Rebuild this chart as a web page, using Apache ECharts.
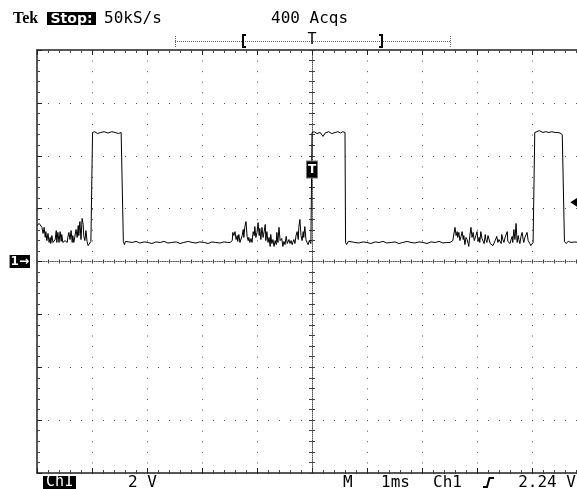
<!DOCTYPE html>
<html>
<head>
<meta charset="utf-8">
<script src="https://cdn.jsdelivr.net/npm/echarts@6/dist/echarts.min.js"></script>
<style>
  html, body { margin: 0; padding: 0; background: #fff; }
  #scope { width: 577px; height: 489px; }
</style>
</head>
<body>
<div id="scope"></div>
<script>
// Channel 1 capture: time in ms relative to the trigger, level in volts.
const timeMs = [
  // noisy idle before the first pulse
  -5.00, -4.96, -4.93, -4.91, -4.89, -4.87, -4.85, -4.84, -4.82, -4.80,
  -4.78, -4.76, -4.75, -4.73, -4.71, -4.67, -4.65, -4.64, -4.62, -4.60,
  -4.58, -4.56, -4.55, -4.53, -4.49, -4.45, -4.44, -4.42, -4.40, -4.38,
  -4.36, -4.35, -4.33, -4.29, -4.27, -4.25, -4.24, -4.22, -4.20, -4.18,
  -4.16, -4.15, -4.13, -4.11, -4.09, -4.07, -4.05, -4.04, -4.02, -4.00,
  // pulse 1
  -3.99, -3.95, -3.90, -3.84, -3.78, -3.71, -3.64, -3.58, -3.52, -3.47, -3.44,
  -3.43, -3.41, -3.39, -3.36, -3.33,
  // quiet low
  -3.27, -3.20, -3.13, -3.05, -2.98, -2.91, -2.84, -2.76, -2.69, -2.62,
  -2.55, -2.47, -2.40, -2.33, -2.25, -2.18, -2.11, -2.04, -1.96, -1.89,
  -1.82, -1.75, -1.67, -1.60, -1.53,
  // noisy stretch before the trigger
  -1.49, -1.45, -1.44, -1.42, -1.40, -1.38, -1.36, -1.35, -1.33, -1.31,
  -1.27, -1.25, -1.24, -1.22, -1.20, -1.18, -1.16, -1.15, -1.13, -1.11,
  -1.09, -1.07, -1.05, -1.04, -1.02, -1.00, -0.98, -0.96, -0.95, -0.93,
  -0.91, -0.89, -0.87, -0.85, -0.84, -0.82, -0.80, -0.78, -0.76, -0.75,
  -0.73, -0.71, -0.69, -0.67, -0.65, -0.64, -0.62, -0.60, -0.58, -0.56,
  -0.55, -0.53, -0.51, -0.49, -0.47, -0.45, -0.44, -0.42, -0.40, -0.38,
  -0.36, -0.35, -0.33, -0.31, -0.29, -0.27, -0.25, -0.24, -0.22, -0.20,
  -0.18, -0.16, -0.15, -0.13, -0.11, -0.09, -0.07, -0.05, -0.04, -0.02,
  // pulse 2 (trigger)
  0.00, 0.04, 0.09, 0.15, 0.20, 0.24, 0.30, 0.36, 0.42, 0.47, 0.52, 0.56, 0.60,
  0.61, 0.63, 0.66, 0.69, 0.73,
  // quiet low
  0.78, 0.85, 0.93, 1.00, 1.07, 1.15, 1.22, 1.29, 1.36, 1.44,
  1.51, 1.58, 1.65, 1.73, 1.80, 1.87, 1.95, 2.02, 2.09, 2.16,
  2.24, 2.31, 2.38, 2.45,
  // noisy stretch before pulse 3
  2.51, 2.56, 2.60, 2.62, 2.64, 2.65, 2.67, 2.69, 2.71, 2.73,
  2.75, 2.76, 2.78, 2.80, 2.82, 2.84, 2.85, 2.87, 2.89, 2.91,
  2.93, 2.95, 2.96, 2.98, 3.00, 3.02, 3.04, 3.05, 3.07, 3.09,
  3.11, 3.13, 3.15, 3.16, 3.18, 3.20, 3.22, 3.24, 3.27, 3.29,
  3.31, 3.33, 3.36, 3.38, 3.40, 3.44, 3.45, 3.47, 3.49, 3.51,
  3.55, 3.56, 3.58, 3.60, 3.62, 3.64, 3.65, 3.67, 3.69, 3.71,
  3.73, 3.75, 3.76, 3.78, 3.80, 3.82, 3.84, 3.85, 3.87, 3.91,
  3.93, 3.95, 3.96, 3.98, 4.00, 4.02, 4.04,
  // pulse 3
  4.05, 4.09, 4.13, 4.16, 4.20, 4.25, 4.31, 4.36, 4.42, 4.47, 4.51, 4.55, 4.58,
  4.59, 4.62, 4.66, 4.71, 4.78, 4.85, 4.92, 5.00
];
const volts = [
  1.36, 1.44, 1.47, 1.29, 1.06, 1.29, 0.91, 1.13, 0.79, 1.06,
  0.72, 0.91, 0.68, 0.98, 0.72, 0.83, 1.17, 0.72, 1.10, 0.72,
  1.13, 0.76, 1.02, 0.72, 0.79, 0.72, 0.91, 1.10, 0.83, 1.17,
  0.72, 0.98, 0.72, 1.21, 0.91, 1.36, 0.98, 1.51, 0.83, 1.63,
  1.40, 0.98, 0.79, 1.17, 0.76, 0.60, 0.53, 0.64, 0.76, 0.76,
  4.88, 4.91, 4.84, 4.88, 4.91, 4.86, 4.91, 4.88, 4.84, 4.88, 4.86,
  0.76, 0.64, 0.76, 0.70, 0.74,
  0.72, 0.76, 0.70, 0.74, 0.72, 0.68, 0.74, 0.72, 0.76, 0.70,
  0.72, 0.74, 0.68, 0.72, 0.76, 0.72, 0.70, 0.74, 0.72, 0.68,
  0.74, 0.72, 0.70, 0.74, 0.72,
  0.72, 0.79, 1.10, 0.98, 1.13, 0.83, 0.98, 0.76, 1.02, 0.72,
  0.98, 1.21, 0.91, 1.32, 1.51, 0.95, 0.79, 0.91, 0.72, 0.87,
  0.72, 1.13, 0.98, 1.32, 0.91, 1.10, 1.47, 0.98, 1.25, 0.83,
  1.29, 0.91, 1.13, 1.40, 0.79, 1.13, 0.72, 0.91, 0.57, 1.02,
  0.68, 0.83, 0.57, 0.79, 0.64, 1.10, 0.72, 1.29, 0.79, 0.72,
  0.87, 0.57, 0.76, 0.64, 0.95, 0.68, 0.72, 0.83, 0.68, 0.79,
  0.64, 0.72, 0.83, 0.68, 0.98, 1.13, 0.83, 1.29, 1.59, 0.98,
  0.79, 1.13, 0.91, 1.32, 0.83, 0.72, 0.64, 0.79, 0.72, 0.68,
  4.88, 4.91, 4.84, 4.88, 4.73, 4.86, 4.91, 4.84, 4.88, 4.91, 4.86, 4.91, 4.88,
  0.72, 0.64, 0.76, 0.70, 0.74,
  0.72, 0.70, 0.74, 0.72, 0.68, 0.74, 0.72, 0.76, 0.70, 0.72,
  0.74, 0.68, 0.72, 0.76, 0.72, 0.70, 0.74, 0.72, 0.68, 0.74,
  0.72, 0.76, 0.70, 0.72,
  0.72, 0.79, 1.29, 0.98, 1.13, 0.91, 1.10, 0.79, 0.95, 1.13,
  0.83, 0.98, 0.64, 0.91, 0.83, 0.68, 0.57, 0.98, 1.29, 0.91,
  1.10, 0.79, 0.83, 0.98, 1.13, 0.76, 0.91, 0.72, 1.13, 0.87,
  0.83, 0.68, 1.02, 0.83, 0.72, 0.98, 0.91, 0.68, 0.72, 0.60,
  0.57, 0.79, 0.95, 0.72, 0.83, 0.68, 1.02, 0.83, 0.72, 0.91,
  1.13, 0.76, 0.83, 0.68, 0.83, 0.95, 0.72, 1.21, 0.83, 1.44,
  0.72, 0.98, 0.83, 0.68, 0.95, 1.10, 0.83, 0.72, 0.91, 1.10,
  0.79, 0.83, 0.68, 0.60, 0.57, 0.72, 0.72,
  4.88, 4.91, 4.95, 4.99, 4.88, 4.91, 4.88, 4.91, 4.88, 4.88, 4.86, 4.80, 4.80,
  0.76, 0.68, 0.76, 0.72, 0.74, 0.72, 0.70, 0.72
];

// Scope settings shown in the readouts.
const voltsPerDiv = 2;
const msPerDiv = 1;
const vertDivs = 8;
const horizDivs = 10;
const triggerLevelV = 2.24;
const triggerTimeMs = 0;
const sampleRateText = '50kS/s';
const acqText = '400 Acqs';
const channelText = 'Ch1';

// Where the trigger-position tag and the trigger-level arrow sit.
const triggerTagV = 3.48;
const levelArrowMs = 4.78;

const waveform = timeMs.map((t, i) => [t, volts[i]]);

const tMin = -horizDivs / 2 * msPerDiv;
const tMax = horizDivs / 2 * msPerDiv;
const vMin = -vertDivs / 2 * voltsPerDiv;
const vMax = vertDivs / 2 * voltsPerDiv;

const frameColor = '#222';
const dotColor = '#555';
const monoFont = '"DejaVu Sans Mono", monospace';

// Dotted graticule: one dot every fifth of a division.
const hDot = [1, 55 / 5 - 1];
const vDot = [1, 423 / vertDivs / 5 - 1];

function borderX(pos) {
  return {
    type: 'value', min: tMin, max: tMax, interval: msPerDiv, position: pos,
    axisLine: { show: true, onZero: false, lineStyle: { color: frameColor, width: 1.5 } },
    axisTick: { show: true, inside: true, length: 5, lineStyle: { color: frameColor } },
    minorTick: { show: true, splitNumber: 5, length: 3, lineStyle: { color: '#444' } },
    axisLabel: { show: false },
    splitLine: { show: pos === 'bottom', lineStyle: { color: dotColor, width: 1, type: vDot } },
    minorSplitLine: { show: false }
  };
}
function centerX(inside, showLine) {
  return {
    type: 'value', min: tMin, max: tMax, interval: msPerDiv / 5, position: 'bottom',
    axisLine: { show: true, onZero: true, onZeroAxisIndex: 0,
      lineStyle: { color: showLine ? dotColor : 'rgba(0,0,0,0)', width: 1, type: [1, 1.2] } },
    axisTick: { show: true, inside: inside, length: 2, lineStyle: { color: '#444' } },
    axisLabel: { show: false },
    splitLine: { show: false }
  };
}
function centerY(inside, showLine) {
  return {
    type: 'value', min: vMin, max: vMax, interval: voltsPerDiv / 5, position: 'left',
    axisLine: { show: true, onZero: true, onZeroAxisIndex: 0,
      lineStyle: { color: showLine ? dotColor : 'rgba(0,0,0,0)', width: 1, type: [1, 1.115] } },
    axisTick: { show: true, inside: inside, length: 3, lineStyle: { color: '#444' } },
    axisLabel: { show: false },
    splitLine: { show: false }
  };
}

function label(text, x, y, font, align, fill) {
  return {
    type: 'text', x: x, y: y, z: 10,
    style: { text: text, font: font, fill: fill || '#000',
      textAlign: align, textVerticalAlign: 'middle', align: align, verticalAlign: 'middle' }
  };
}

const chart = echarts.init(document.getElementById('scope'), null, { renderer: 'canvas' });

const option = {
  backgroundColor: '#fff',
  animation: false,
  grid: { left: 37, top: 50, width: 550, height: 423, containLabel: false, outerBoundsMode: 'none' },
  xAxis: [
    borderX('bottom'),
    borderX('top'),
    centerX(true, true),
    centerX(false, false)
  ],
  yAxis: [
    {
      type: 'value', min: vMin, max: vMax, interval: voltsPerDiv, position: 'left',
      axisLine: { show: true, onZero: false, lineStyle: { color: frameColor, width: 1.5 } },
      axisTick: { show: true, inside: true, length: 5, lineStyle: { color: frameColor } },
      minorTick: { show: true, splitNumber: 5, length: 3, lineStyle: { color: '#444' } },
      axisLabel: {
        show: true, margin: 7,
        formatter: v => (v === 0 ? '{gnd|1→}' : ''),
        rich: {
          gnd: { color: '#fff', backgroundColor: '#000', fontWeight: 'bold', fontSize: 12,
                 fontFamily: '"DejaVu Sans", sans-serif', padding: [1, 1, 0, 1], lineHeight: 13 }
        }
      },
      splitLine: { show: true, lineStyle: { color: dotColor, width: 1, type: hDot } }
    },
    centerY(true, true),
    centerY(false, false)
  ],
  series: [{
    type: 'line',
    xAxisIndex: 0,
    yAxisIndex: 0,
    data: waveform,
    showSymbol: false,
    symbol: 'none',
    clip: true,
    lineStyle: { color: '#000', width: 1 },
    emphasis: { disabled: true },
    markPoint: {
      animation: false,
      silent: true,
      data: [
        {
          coord: [triggerTimeMs, triggerTagV], symbol: 'rect', symbolSize: [11, 17],
          itemStyle: { color: '#000', borderColor: '#777', borderWidth: 1 },
          label: { show: true, position: 'inside', formatter: 'T', color: '#fff',
                   fontWeight: 'bold', fontSize: 12, fontFamily: '"DejaVu Sans", sans-serif' }
        },
        {
          coord: [levelArrowMs, triggerLevelV], symbol: 'triangle', symbolRotate: 90,
          symbolSize: [12, 9], itemStyle: { color: '#000' }, label: { show: false }
        }
      ]
    }
  }],
  graphic: [
    // Header readout
    label('Tek', 13, 19, 'bold 16px "Liberation Serif", serif', 'left'),
    { type: 'rect', shape: { x: 47, y: 12, width: 49, height: 13 }, style: { fill: '#000' } },
    label('Stop:', 71.5, 19, 'bold 14px "DejaVu Sans", sans-serif', 'center', '#fff'),
    label(sampleRateText, 104, 19, '16px ' + monoFont, 'left'),
    label(acqText, 271, 19, '16px ' + monoFont, 'left'),

    // Record view bar
    { type: 'line', shape: { x1: 175, y1: 41.5, x2: 451, y2: 41.5 },
      style: { stroke: '#666', lineWidth: 1, lineDash: [1, 1] } },
    { type: 'line', shape: { x1: 175.5, y1: 36, x2: 175.5, y2: 47 },
      style: { stroke: '#666', lineWidth: 1, lineDash: [1, 1] } },
    { type: 'line', shape: { x1: 450.5, y1: 36, x2: 450.5, y2: 47 },
      style: { stroke: '#666', lineWidth: 1, lineDash: [1, 1] } },
    { type: 'polyline', shape: { points: [[246, 35], [243, 35], [243, 47], [246, 47]] },
      style: { stroke: '#000', lineWidth: 2, fill: null } },
    { type: 'polyline', shape: { points: [[379, 35], [382, 35], [382, 47], [379, 47]] },
      style: { stroke: '#000', lineWidth: 2, fill: null } },
    label('T', 312, 40, '15px ' + monoFont, 'center'),

    // Footer readout
    { type: 'rect', shape: { x: 43, y: 476, width: 33, height: 13 }, style: { fill: '#000' } },
    label(channelText, 59.5, 482.5, '15px ' + monoFont, 'center', '#fff'),
    label(voltsPerDiv + ' V', 128, 482.5, '16px ' + monoFont, 'left'),
    label('M', 343, 482.5, '16px ' + monoFont, 'left'),
    label(msPerDiv + 'ms', 381, 482.5, '16px ' + monoFont, 'left'),
    label(channelText, 433, 482.5, '16px ' + monoFont, 'left'),
    { type: 'polyline', shape: { points: [[483, 487], [487, 487], [489.5, 478], [494, 478]] },
      style: { stroke: '#000', lineWidth: 2, fill: null } },
    label(triggerLevelV.toFixed(2) + ' V', 576, 482.5, '16px ' + monoFont, 'right')
  ]
};

chart.setOption(option);
</script>
</body>
</html>
